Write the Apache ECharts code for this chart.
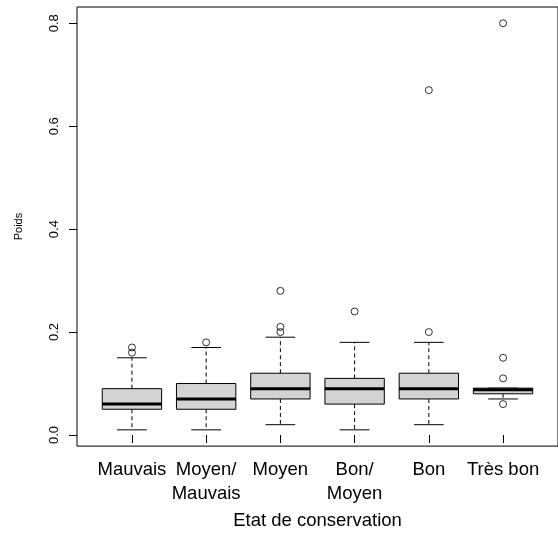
<!DOCTYPE html>
<html>
<head>
<meta charset="utf-8">
<script src="https://cdn.jsdelivr.net/npm/echarts@6/dist/echarts.min.js"></script>
<style>
html,body{margin:0;padding:0;background:#fff;}
#chart{width:558px;height:535px;}
</style>
</head>
<body>
<div id="chart"></div>
<script>
// Data
const categories = ['Mauvais', 'Moyen/\nMauvais', 'Moyen', 'Bon/\nMoyen', 'Bon', 'Très bon'];
const lowerWhisker = [0.01, 0.01, 0.02, 0.01, 0.02, 0.07];
const q1 = [0.05, 0.05, 0.07, 0.06, 0.07, 0.08];
const median = [0.06, 0.07, 0.09, 0.09, 0.09, 0.088];
const q3 = [0.09, 0.10, 0.12, 0.11, 0.12, 0.091];
const upperWhisker = [0.15, 0.17, 0.19, 0.18, 0.18, 0.091];
const outliers = [
  [0.16, 0.17],
  [0.18],
  [0.20, 0.21, 0.28],
  [0.24],
  [0.20, 0.67],
  [0.06, 0.11, 0.15, 0.80]
];
const yTicks = [0.0, 0.2, 0.4, 0.6, 0.8];
const xTicks = [1, 2, 3, 4, 5, 6];

const boxData = categories.map((c, i) => [i + 1, lowerWhisker[i], q1[i], median[i], q3[i], upperWhisker[i]]);
const outlierData = [];
outliers.forEach((arr, i) => arr.forEach(v => outlierData.push([i + 1, v])));

const FONT = '"Liberation Sans", Arial, Helvetica, sans-serif';

function renderBox(params, api) {
  const x = api.value(0);
  const lw = api.coord([x, api.value(1)]);
  const b1 = api.coord([x, api.value(2)]);
  const md = api.coord([x, api.value(3)]);
  const b3 = api.coord([x, api.value(4)]);
  const uw = api.coord([x, api.value(5)]);
  const w = api.size([0.8, 0])[0];
  const sw = w / 2;
  const cx = lw[0];
  const dash = {stroke: '#000', lineWidth: 1, lineDash: [4, 3]};
  const solid = {stroke: '#000', lineWidth: 1};
  return {
    type: 'group',
    children: [
      {type: 'line', shape: {x1: cx, y1: b3[1], x2: cx, y2: uw[1]}, style: dash},
      {type: 'line', shape: {x1: cx, y1: b1[1], x2: cx, y2: lw[1]}, style: dash},
      {type: 'line', shape: {x1: cx - sw / 2, y1: uw[1], x2: cx + sw / 2, y2: uw[1]}, style: solid},
      {type: 'line', shape: {x1: cx - sw / 2, y1: lw[1], x2: cx + sw / 2, y2: lw[1]}, style: solid},
      {type: 'rect', shape: {x: cx - w / 2, y: b3[1], width: w, height: b1[1] - b3[1]},
        style: {fill: '#d3d3d3', stroke: '#000', lineWidth: 1}},
      {type: 'line', shape: {x1: cx - w / 2, y1: md[1], x2: cx + w / 2, y2: md[1]},
        style: {stroke: '#000', lineWidth: 3}}
    ]
  };
}

const chart = echarts.init(document.getElementById('chart'), null, {renderer: 'canvas'});
chart.setOption({
  backgroundColor: '#fff',
  animation: false,
  grid: {
    left: 77, top: 7, width: 491, height: 446,
    show: true, borderColor: '#000', borderWidth: 1, backgroundColor: 'transparent'
  },
  xAxis: {
    type: 'value', min: 0.26, max: 6.74,
    name: 'Etat de conservation', nameLocation: 'middle', nameGap: 58,
    nameTextStyle: {fontSize: 18.5, color: '#000', fontFamily: FONT},
    axisLine: {show: false},
    splitLine: {show: false},
    axisTick: {show: true, inside: false, length: 8, customValues: xTicks, lineStyle: {color: '#000'}},
    axisLabel: {
      customValues: xTicks, margin: 12, fontSize: 18.5, lineHeight: 24, color: '#000', fontFamily: FONT,
      formatter: v => categories[Math.round(v) - 1] || ''
    }
  },
  yAxis: {
    type: 'value', min: -0.0216, max: 0.8316,
    name: 'Poids', nameLocation: 'middle', nameGap: 53,
    nameTextStyle: {fontSize: 11, color: '#000', fontFamily: FONT},
    axisLine: {show: false},
    splitLine: {show: false},
    axisTick: {show: true, inside: false, length: 8, customValues: yTicks, lineStyle: {color: '#000'}},
    axisLabel: {
      customValues: yTicks, rotate: 90, margin: 16, fontSize: 13, color: '#000', fontFamily: FONT,
      formatter: v => v.toFixed(1)
    }
  },
  series: [
    {
      type: 'custom',
      renderItem: renderBox,
      data: boxData,
      encode: {x: 0, y: [1, 2, 3, 4, 5]},
      silent: true,
      z: 2
    },
    {
      type: 'scatter',
      data: outlierData,
      symbol: 'circle',
      symbolSize: 7,
      itemStyle: {color: 'rgba(0,0,0,0)', borderColor: '#000', borderWidth: 1},
      silent: true,
      z: 3
    }
  ]
});
</script>
</body>
</html>
